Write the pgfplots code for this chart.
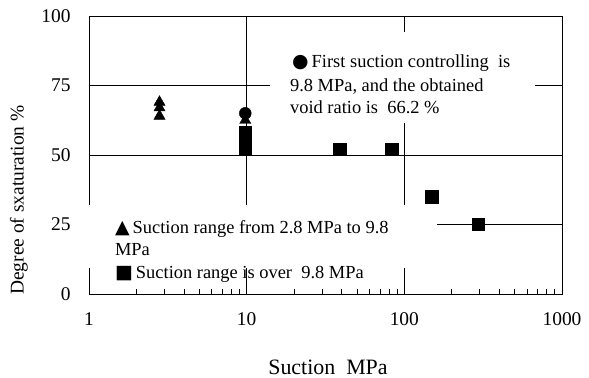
\documentclass[border=0pt]{standalone}
\usepackage{pgfplots}
\pgfplotsset{compat=1.18}
\usepackage{fontspec}
\setmainfont{Liberation Serif}
\newfontfamily\sym{DejaVu Sans}
\begin{document}
\begin{tikzpicture}
\path[use as bounding box] (-89bp,-84bp) rectangle (500bp,294bp);
\begin{axis}[
  at={(0,0)}, anchor=south west,
  scale only axis, width=473bp, height=278bp,
  xmode=log, xmin=1, xmax=1000, ymin=0, ymax=100,
  xtick={1,10,100,1000}, xticklabels={1,10,100,1000},
  minor xtick={2,3,4,5,6,7,8,9,20,30,40,50,60,70,80,90,200,300,400,500,600,700,800,900},
  ytick={0,25,50,75,100},
  grid=major,
  major grid style={black, line width=0.7pt},
  axis line style={black, line width=0.9pt},
  major tick length=0pt,
  minor tick length=5pt,
  minor x tick style={black, line width=0.6pt},
  xtick pos=bottom, ytick pos=left,
  tick align=inside,
  tick label style={font=\fontsize{19.5}{22}\selectfont},
  xticklabel style={yshift=-15pt},
  yticklabel style={xshift=-15pt},
  /pgf/number format/assume math mode=true,
  clip=false,
]
\fill[white] (axis cs:14.06,94.2) rectangle (axis cs:673,61.5);
\fill[white] (axis cs:1,32) rectangle (axis cs:161,9.4);
\addplot[only marks, mark=triangle*, mark size=6.5pt, black] coordinates {
 (2.8,69) (2.8,67) (2.8,64) (9.8,62.5)};
\addplot[only marks, mark=*, mark size=6pt, black] coordinates {(9.8,65)};
\addplot[only marks, mark=square*, mark size=6.2pt, black] coordinates {
 (9.8,52) (9.8,54) (9.8,56) (9.8,58) (39,52) (83,52) (149,35) (293,25)};
\begin{scope}[every node/.style={anchor=base west, inner sep=0pt, font=\fontsize{18.5}{20}\selectfont}]
\node at (axis cs:19.4,81.3) {{\sym\fontsize{19}{20}\selectfont ●}\hspace{3pt}First suction controlling\ \ is};
\node at (axis cs:18.8,73) {9.8 MPa, and the obtained};
\node at (axis cs:18.8,65.1) {void ratio is\ \ 66.2 \%};
\node at (axis cs:1.46,21.6) {{\sym\fontsize{19}{20}\selectfont ▲}\hspace{3pt}Suction range from 2.8 MPa to 9.8};
\node at (axis cs:1.46,13.7) {MPa};
\node at (axis cs:1.46,5.4) {{\sym\fontsize{19}{20}\selectfont ■}\hspace{3pt}Suction range is over\ \ 9.8 MPa};
\end{scope}
\end{axis}
\node[rotate=90, font=\fontsize{19.5}{22}\selectfont] at (-70bp,94bp) {Degree of sxaturation \%};
\node[font=\fontsize{22}{24}\selectfont] at (239bp,-73bp) {Suction\ \ MPa};
\end{tikzpicture}
\end{document}
